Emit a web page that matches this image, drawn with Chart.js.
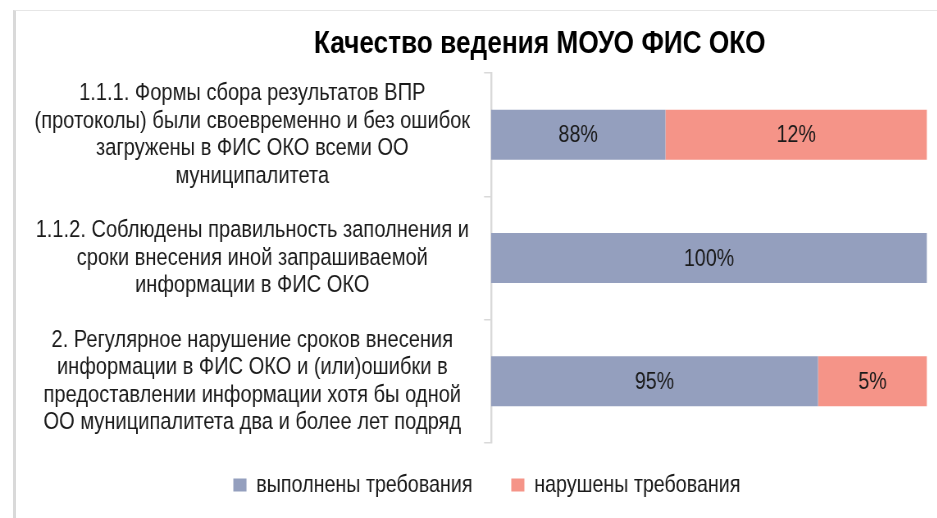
<!DOCTYPE html>
<html>
<head>
<meta charset="utf-8">
<script src="https://cdn.jsdelivr.net/npm/chart.js@4"></script>
<style>
  html, body { margin: 0; padding: 0; background: #fff; overflow: hidden; }
  #wrap { position: relative; width: 937px; height: 518px; overflow: hidden; }
  #frame { position: absolute; left: 13px; top: 10px; width: 940px; height: 520px;
           border-left: 3px solid #d9d9d9; border-top: 1px solid #e6e6e6; }
  /* the original uses a narrow face; squeeze the canvas horizontally to get it */
  canvas { position: absolute; left: 0; top: 0; transform: scaleX(0.82); transform-origin: 0 0; }
</style>
</head>
<body>
<div id="wrap">
  <div id="frame"></div>
  <canvas id="fisChart" width="1143" height="518"></canvas>
</div>
<script>
const FONT = "'Liberation Sans', Arial, sans-serif";

const categories = [
  ['1.1.1. Формы сбора результатов ВПР', '(протоколы) были своевременно и без ошибок', 'загружены в ФИС ОКО всеми ОО', 'муниципалитета'],
  ['1.1.2. Соблюдены правильность заполнения и', 'сроки внесения иной запрашиваемой', 'информации в ФИС ОКО'],
  ['2. Регулярное нарушение сроков внесения', 'информации в ФИС ОКО и (или)ошибки в', 'предоставлении информации хотя бы одной', 'ОО муниципалитета два и более лет подряд']
];

// bar segment lengths as drawn in the picture
const doneShare = [40, 100, 75];
const brokenShare = [60, 0, 25];

// printed value labels
const doneLabels = ['88%', '100%', '95%'];
const brokenLabels = ['12%', '', '5%'];

const seriesNames = ['выполнены требования', 'нарушены требования'];

// draw the percent text in the middle of each bar segment
const barText = {
  id: 'barText',
  afterDatasetsDraw(chart) {
    const ctx = chart.ctx;
    const texts = [doneLabels, brokenLabels];
    ctx.save();
    ctx.font = '24px ' + FONT;
    ctx.fillStyle = '#1a1a1a';
    ctx.textAlign = 'center';
    ctx.textBaseline = 'middle';
    chart.data.datasets.forEach((ds, i) => {
      chart.getDatasetMeta(i).data.forEach((bar, j) => {
        if (!texts[i][j]) return;
        const p = bar.getProps(['x', 'y', 'base'], true);
        ctx.fillText(texts[i][j], (p.x + p.base) / 2, p.y + 1);
      });
    });
    ctx.restore();
  }
};

// title and legend sit a bit right of the canvas middle in the original
const shiftBlocks = {
  id: 'shiftBlocks',
  afterLayout(chart) {
    chart.titleBlock.left += 166;
    chart.legend.left += 37;
  }
};

new Chart(document.getElementById('fisChart'), {
  type: 'bar',
  data: {
    labels: categories,
    datasets: [
      {
        label: seriesNames[0],
        data: doneShare,
        backgroundColor: '#949fbe'
      },
      {
        label: seriesNames[1],
        data: brokenShare,
        backgroundColor: '#f59488'
      }
    ]
  },
  options: {
    indexAxis: 'y',
    responsive: false,
    animation: false,
    categoryPercentage: 1,
    barPercentage: 0.405,
    layout: { padding: { left: 20, right: 12.5, top: 18, bottom: 11 } },
    plugins: {
      title: {
        display: true,
        text: 'Качество ведения МОУО ФИС ОКО',
        color: '#000',
        font: { family: FONT, size: 32, weight: 'bold' },
        padding: { top: 6.8, bottom: 9.8 }
      },
      legend: {
        position: 'bottom',
        labels: {
          color: '#1a1a1a',
          font: { family: FONT, size: 24 },
          boxWidth: 16,
          boxHeight: 13,
          padding: 14,
          generateLabels(chart) {
            const items = Chart.defaults.plugins.legend.labels.generateLabels(chart);
            // wider gap after the first item, as in the original
            items[0].text += '\u00a0\u00a0\u00a0\u00a0\u00a0';
            items.forEach(it => { it.strokeStyle = 'transparent'; it.lineWidth = 0; });
            return items;
          }
        }
      },
      tooltip: { enabled: false }
    },
    scales: {
      x: {
        stacked: true,
        min: 0,
        max: 100,
        afterFit: (s) => { s.height = 16; },
        ticks: { display: false },
        grid: { display: false },
        border: { display: false }
      },
      y: {
        stacked: true,
        afterFit: (s) => { s.width = 578.8; },
        border: { color: '#d9d9d9', width: 2.4 },
        grid: { drawOnChartArea: false, drawTicks: true, tickLength: 8.5, color: '#d9d9d9', lineWidth: 1.5 },
        ticks: {
          autoSkip: false,
          crossAlign: 'center',
          padding: 17,
          color: '#1a1a1a',
          font: { family: FONT, size: 24.5, lineHeight: 1.12 }
        }
      }
    }
  },
  plugins: [barText, shiftBlocks]
});
</script>
</body>
</html>
